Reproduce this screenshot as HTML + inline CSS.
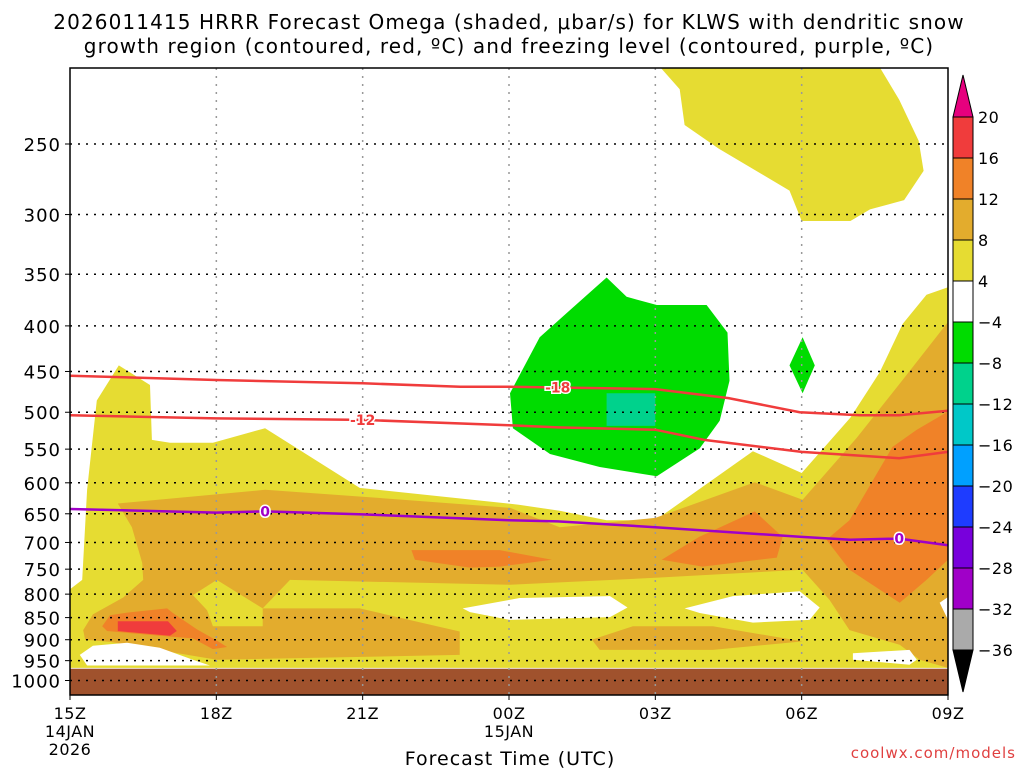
<!DOCTYPE html>
<html><head><meta charset="utf-8"><style>
html,body{margin:0;padding:0;background:#fff;}
svg{display:block;font-family:"DejaVu Sans","Liberation Sans",sans-serif;}
</style></head><body>
<svg id="chart" width="1024" height="768" viewBox="0 0 1024 768">
<text x="509" y="29" text-anchor="middle" font-size="20" letter-spacing="1.1">2026011415 HRRR Forecast Omega (shaded, μbar/s) for KLWS with dendritic snow</text>
<text x="509" y="53" text-anchor="middle" font-size="20" letter-spacing="1.1">growth region (contoured, red, ºC) and freezing level (contoured, purple, ºC)</text>
<defs><clipPath id="pc"><rect x="70" y="68" width="878" height="627"/></clipPath></defs>
<g id="shades" clip-path="url(#pc)"></g>
<g id="grid"></g>
<g id="contours" clip-path="url(#pc)"></g>
<g id="axes"></g>
<g id="cbar"></g>
<text x="510" y="765" text-anchor="middle" font-size="19" letter-spacing="1">Forecast Time (UTC)</text>
<text x="1016" y="758" text-anchor="end" font-size="15" letter-spacing="1" fill="#e04040">coolwx.com/models</text>
</svg>
<script>
// ---- data ----
const xHours = [0,3,6,9,12,15,18];
const xTickLabels = ["15Z","18Z","21Z","00Z","03Z","06Z","09Z"];
const yLevels = [250,300,350,400,450,500,550,600,650,700,750,800,850,900,950,1000];
const groundP = 970;
const cbLevels = [20,16,12,8,4,-4,-8,-12,-16,-20,-24,-28,-32,-36];
const cbColors = ["#f03c3c","#f08228","#e3ac2d","#e6dc32","#ffffff","#00dc00","#00d28c","#00c8c8","#00a0ff","#1e3cff","#7800dc","#a000c8","#aaaaaa"];
const yellowUpper = [[12.1,205],[12.5,217],[12.6,238],[13.3,253],[14.75,282],[15.0,305],[16.0,305],[16.4,296],[17.1,289],[17.5,268],[17.4,248],[17.0,223],[16.6,205]];
const yellowLower = [[0,962],[0,790],[0.25,771],[0.35,611],[0.55,485],[1.0,443],[1.64,466],[1.68,537],[2.05,541],[2.93,541],[4.0,521],[5.94,608],[9.2,635],[10.04,645],[11.0,661],[12.0,661],[14.0,553],[15.0,585],[16.0,507],[16.6,451],[17.07,398],[17.56,369],[18,362],[18,968],[0,968]];
const orangeMain = [[0.98,633],[4.0,611],[6.0,622],[9.02,640],[10.04,673],[12.0,657],[14.04,599],[15.02,627],[16.13,534],[17.07,460],[18,396],[18,968],[17.42,948],[17.01,912],[15.98,878],[15.57,812],[15.02,751],[12.0,767],[9.02,781],[4.51,771],[3.95,830],[5.94,830],[7.99,881],[7.99,936],[3.01,948],[0.82,905],[0.31,900],[0.27,878],[0.47,843],[1.09,807],[1.5,771],[1.48,738],[1.27,673]];
const yellowIntrusion = [[2.52,802],[3.01,771],[3.95,830],[3.95,869],[2.93,869],[2.81,834]];
const orangeLens = [[10.7,900],[11.54,869],[13.18,869],[15.02,904],[13.18,924],[10.86,924]];
const darkOrange1 = [[7.0,714],[8.81,714],[9.88,732],[8.81,745],[8.2,747],[7.07,732]];
const darkOrange2 = [[12.13,732],[12.9,690],[14.04,646],[14.61,690],[14.49,728],[12.97,745]];
const darkOrange3 = [[15.51,695],[15.98,661],[16.86,547],[17.36,523],[18,499],[18,732],[17.56,771],[17.01,818],[15.98,751]];
const darkOrange4 = [[0.66,869],[0.82,845],[1.17,839],[1.99,830],[2.11,840],[2.6,876],[3.01,902],[3.22,917],[2.93,922],[2.52,897],[1.84,891],[0.76,880]];
const redCore = [[0.98,858],[2.01,858],[2.19,880],[2.05,891],[0.98,880]];
const whiteHole1 = [[0.2,936],[0.47,914],[1.17,907],[1.84,919],[2.52,948],[2.87,962],[1.17,962],[0.35,962]];
const whiteHole2 = [[8.05,830],[9.22,808],[11.07,804],[11.43,828],[11.07,849],[9.02,855],[8.2,838]];
const whiteHole3 = [[12.6,830],[13.59,804],[14.96,794],[15.37,828],[15.16,855],[14.0,861],[12.91,840]];
const whiteHole4 = [[17.83,818],[18,806],[18,855]];
const whiteHole5 = [[16.05,932],[17.21,924],[17.36,948],[17.21,960],[16.05,948]];
const greenBlob = [[11.0,353],[11.41,371],[12.03,379],[13.05,379],[13.48,407],[13.52,461],[13.32,511],[12.91,549],[12.03,590],[10.86,576],[9.84,557],[9.08,521],[9.02,476],[9.63,412],[10.18,387]];
const tealBox = [[11.0,476],[12.0,476],[12.0,518],[11.0,518]];
const greenDiamond = [[15.02,412],[15.27,443],[15.02,476],[14.75,443]];
const c18Hours = [0,3,6,8,9,12,13.5,14.96,16.2,17,18];
const c18P = [455,460,464,468,468,471,482,500,504,504,498];
const c12Hours = [0,3,6,9,10,12,13,15,17,18];
const c12P = [504,508,510,517,520,523,537,554,563,554];
const c0Hours = [0,3,4,6,9,10,12,15,16,17,18];
const c0P = [642,648,646,651,661,663,673,690,695,693,705];

// ---- axis functions ----
const X0=70, X1=948, Y0=68, Y1=695;
function sx(h){ return X0 + h*(X1-X0)/18; }
function sy(p){ return 144 + 387*Math.log(p/250); }
const NS="http://www.w3.org/2000/svg";
function mk(tag, parent, attrs){ const e=document.createElementNS(NS,tag); for(const k in attrs) e.setAttribute(k,attrs[k]); parent.appendChild(e); return e; }
const shades=document.getElementById('shades');
function poly(pts, fill, name){
  const e=mk('polygon', shades, {points: pts.map(q=>sx(q[0]).toFixed(1)+','+sy(q[1]).toFixed(1)).join(' '), fill: fill});
  
  
}
poly(yellowUpper,"#e6dc32","shade-yellow-upper");
poly(yellowLower,"#e6dc32","shade-yellow-lower");
poly(orangeMain,"#e3ac2d","shade-orange-main");
poly(yellowIntrusion,"#e6dc32","shade-yellow-intrusion");
poly(orangeLens,"#e3ac2d","shade-orange-lens");
poly(darkOrange1,"#f08228","shade-darkorange-1");
poly(darkOrange2,"#f08228","shade-darkorange-2");
poly(darkOrange3,"#f08228","shade-darkorange-3");
poly(darkOrange4,"#f08228","shade-darkorange-4");
poly(redCore,"#f03c3c","shade-red-core");
poly(whiteHole1,"#ffffff","shade-white-1");
poly(whiteHole2,"#ffffff","shade-white-2");
poly(whiteHole3,"#ffffff","shade-white-3");
poly(whiteHole4,"#ffffff","shade-white-4");
poly(whiteHole5,"#ffffff","shade-white-5");
poly(greenBlob,"#00dc00","shade-green-blob");
poly(tealBox,"#00d28c","shade-teal-box");
poly(greenDiamond,"#00dc00","shade-green-diamond");
const gr=mk('rect', shades, {x:X0, y:sy(groundP), width:X1-X0, height:Y1-sy(groundP), fill:"#a0522d"});



// grid + axes
const grid=document.getElementById('grid'), axes=document.getElementById('axes');
yLevels.forEach(p=>{
  const l=mk('line', grid, {x1:X0, x2:X1, y1:sy(p), y2:sy(p), stroke:"#000", "stroke-width":1.5, "stroke-dasharray":"2 6"});
  
  
  const t=mk('text', axes, {x:61, y:sy(p)+7, "text-anchor":"end", "font-size":18, "letter-spacing":1});
  t.textContent=p;
  
  
  mk('line', axes, {x1:X0-5, x2:X0, y1:sy(p), y2:sy(p), stroke:"#000"});
});
xHours.forEach((h,i)=>{
  if(i>0 && i<xHours.length-1){
    const l=mk('line', grid, {x1:sx(h), x2:sx(h), y1:Y0, y2:Y1, stroke:"#999", "stroke-width":1.5, "stroke-dasharray":"2 6"});
    
    
  }
  mk('line', axes, {x1:sx(h), x2:sx(h), y1:Y1, y2:Y1+5, stroke:"#000"});
  const t=mk('text', axes, {x:sx(h), y:719, "text-anchor":"middle", "font-size":16, "letter-spacing":0.5});
  t.textContent=xTickLabels[i];
  
  
});
[["14JAN",sx(0),737],["2026",sx(0),755],["15JAN",sx(9),737]].forEach((d,i)=>{
  const t=mk('text', axes, {x:d[1], y:d[2], "text-anchor":"middle", "font-size":16, "letter-spacing":0.5});
  t.textContent=d[0];
  
  
});
const fr=mk('rect', axes, {x:X0, y:Y0, width:X1-X0, height:Y1-Y0, fill:"none", stroke:"#000", "stroke-width":1.5});



// contours
const cg=document.getElementById('contours');
function cline(hs, ps, color, name){
  const d=hs.map((h,i)=>(i?'L':'M')+sx(h).toFixed(1)+','+sy(ps[i]).toFixed(1)).join(' ');
  const e=mk('path', cg, {d:d, fill:"none", stroke:color, "stroke-width":2.5});
  
  
}
cline(c18Hours,c18P,"#f03c3c","contour-minus18");
cline(c12Hours,c12P,"#f03c3c","contour-minus12");
cline(c0Hours,c0P,"#a000c8","contour-freezing-0");
function clabel(txt, h, p, color, name){
  const x=sx(h), y=sy(p);
  const t=mk('text', cg, {x:x, y:y+5, "text-anchor":"middle", "font-size":14, "font-weight":"bold", fill:color, stroke:"#fff", "stroke-width":3, "paint-order":"stroke"});
  t.textContent=txt;
  
  
}
clabel("-18",10.0,469,"#f03c3c","label-minus18");
clabel("-12",6.0,510,"#f03c3c","label-minus12");
clabel("0",4.0,646,"#a000c8","label-zero-1");
clabel("0",17.0,693,"#a000c8","label-zero-2");

// colorbar
const cb=document.getElementById('cbar');
const CBX=953, CBW=20, CBT=117, CBS=41;
const tt=mk('polygon', cb, {points:`${CBX},${CBT} ${CBX+CBW},${CBT} ${CBX+CBW/2},${CBT-42}`, fill:"#e6007e", stroke:"#000"});


cbColors.forEach((c,i)=>{
  const r=mk('rect', cb, {x:CBX, y:CBT+i*CBS, width:CBW, height:CBS, fill:c, stroke:"#000"});
  
  
});
const bt=CBT+cbColors.length*CBS;
const ba=mk('polygon', cb, {points:`${CBX},${bt} ${CBX+CBW},${bt} ${CBX+CBW/2},${bt+42}`, fill:"#000", stroke:"#000"});


cbLevels.forEach((v,i)=>{
  const t=mk('text', cb, {x:978, y:CBT+i*CBS+6, "font-size":16, "letter-spacing":0.5});
  t.textContent=v<0?('\u2212'+(-v)):String(v);
  
  
});
</script>
</body></html>
